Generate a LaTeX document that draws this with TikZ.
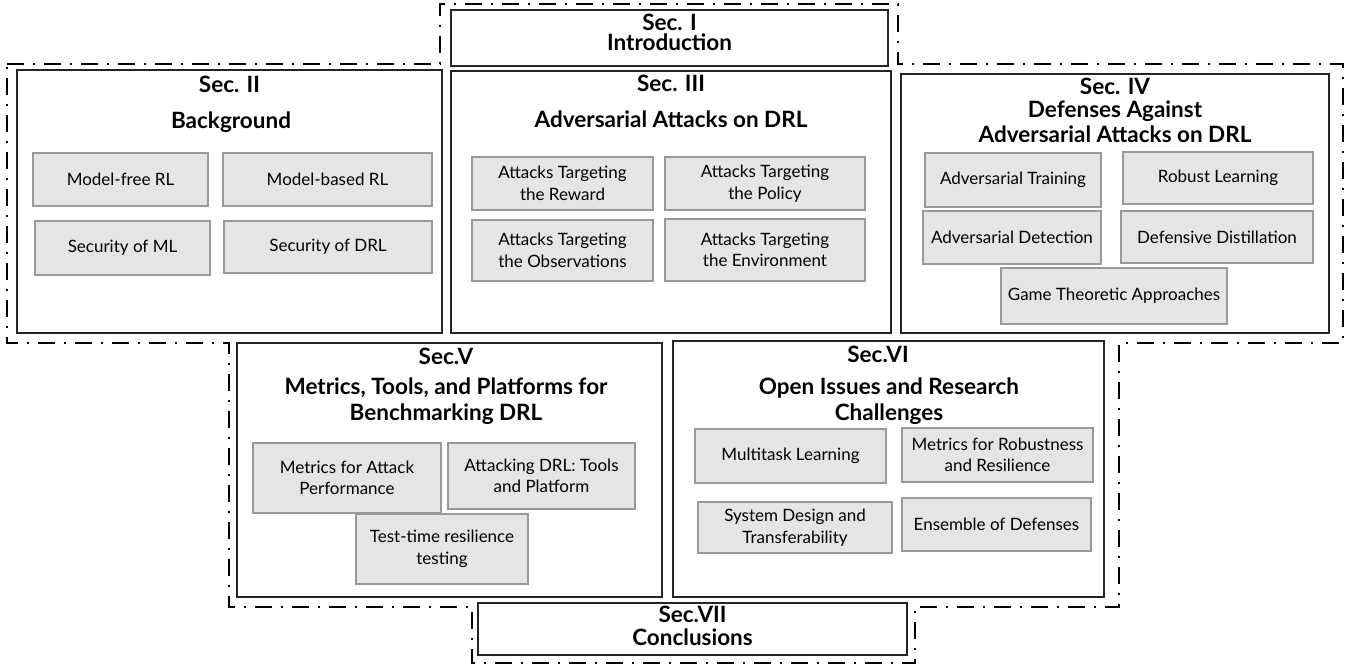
\documentclass[tikz,border=0pt]{standalone}
\usepackage{fontspec}
\setmainfont{Lato}
\begin{document}
\begin{tikzpicture}[x=1pt,y=-1pt,
  secbox/.style={draw=black!85, line width=1.4pt, inner sep=0pt},
  subbox/.style={draw=black!40, fill=black!10, line width=1.3pt, inner sep=0pt, align=center,
     font=\fontsize{17}{21.5}\selectfont},
  headtxt/.style={anchor=base, inner sep=0pt, font=\fontsize{22.5}{25}\selectfont\bfseries},
  outline/.style={line width=2pt, dash pattern=on 17pt off 9pt on 2pt off 9pt}]
\useasboundingbox (0,0) rectangle (1354,667);
% outer dash-dot outline
\draw[outline] (7,64) -- (440,64) -- (440,4) -- (898,4) -- (898,64) -- (1343,64) -- (1343,343)
  -- (1119,343) -- (1119,607) -- (915,607) -- (915,663) -- (472,663) -- (472,607)
  -- (229,607) -- (229,343) -- (7,343) -- cycle;
% section boxes
\node[secbox, minimum width=437pt, minimum height=56pt] (s1) at (669.5,38) {};
\node[secbox, minimum width=425pt, minimum height=263pt] (s2) at (229.5,201.5) {};
\node[secbox, minimum width=440pt, minimum height=262pt] (s3) at (671,202) {};
\node[secbox, minimum width=428pt, minimum height=259pt] (s4) at (1115,203.5) {};
\node[secbox, minimum width=425pt, minimum height=254pt] (s5) at (449.5,470) {};
\node[secbox, minimum width=431pt, minimum height=256pt] (s6) at (888.5,469) {};
\node[secbox, minimum width=429pt, minimum height=52pt] (s7) at (692.5,629) {};
% headings
\node[headtxt] (h1a) at (669.5,30) {Sec. I};
\node[headtxt] (h1b) at (669.5,50) {Introduction};
\node[headtxt] (h2a) at (229.5,92) {Sec. II};
\node[headtxt] (h2b) at (231,128) {Background};
\node[headtxt] (h3a) at (671,91) {Sec. III};
\node[headtxt] (h3b) at (671,127) {Adversarial Attacks on DRL};
\node[headtxt] (h4a) at (1115,94) {Sec. IV};
\node[headtxt] (h4b) at (1115,117) {Defenses Against};
\node[headtxt] (h4c) at (1115,142) {Adversarial Attacks on DRL};
\node[headtxt] (h5a) at (446,364) {Sec.V};
\node[headtxt] (h5b) at (446,394) {Metrics, Tools, and Platforms for};
\node[headtxt] (h5c) at (446,420) {Benchmarking DRL};
\node[headtxt] (h6a) at (878,362) {Sec.VI};
\node[headtxt] (h6b) at (889,394) {Open Issues and Research};
\node[headtxt] (h6c) at (889,420) {Challenges};
\node[headtxt] (h7a) at (692.5,622) {Sec.VII};
\node[headtxt] (h7b) at (692.5,645) {Conclusions};
% Sec II items
\node[subbox, minimum width=175pt, minimum height=53pt] (mfree) at (120.5,179.5) {Model-free RL};
\node[subbox, minimum width=209pt, minimum height=53pt] (mbased) at (327.5,179.5) {Model-based RL};
\node[subbox, minimum width=175pt, minimum height=54pt] (secml) at (122.5,248) {Security of ML};
\node[subbox, minimum width=208pt, minimum height=52pt] (secdrl) at (328,247) {Security of DRL};
% Sec III items
\node[subbox, minimum width=181pt, minimum height=53pt] (reward) at (562.5,183.5) {Attacks Targeting\\the Reward};
\node[subbox, minimum width=200pt, minimum height=53pt] (policy) at (765,183.5) {Attacks Targeting\\the Policy};
\node[subbox, minimum width=181pt, minimum height=61pt] (obs) at (562.5,250.5) {Attacks Targeting\\the Observations};
\node[subbox, minimum width=200pt, minimum height=62pt] (env) at (765,250) {Attacks Targeting\\the Environment};
% Sec IV items
\node[subbox, minimum width=176pt, minimum height=54pt] (advtrain) at (1013,180) {Adversarial Training};
\node[subbox, minimum width=190pt, minimum height=52pt] (robust) at (1218,178) {Robust Learning};
\node[subbox, minimum width=178pt, minimum height=53pt] (advdet) at (1012,237.5) {Adversarial Detection};
\node[subbox, minimum width=192pt, minimum height=52pt] (distill) at (1217,237) {Defensive Distillation};
\node[subbox, minimum width=226pt, minimum height=56pt] (game) at (1114,296) {Game Theoretic Approaches};
% Sec V items
\node[subbox, minimum width=188pt, minimum height=70pt] (metatk) at (347,478) {Metrics for Attack\\Performance};
\node[subbox, minimum width=187pt, minimum height=66pt] (atkdrl) at (541.5,476) {Attacking DRL: Tools\\and Platform};
\node[subbox, minimum width=172pt, minimum height=70pt] (testtime) at (442,549) {Test-time resilience\\testing};
% Sec VI items
\node[subbox, minimum width=191pt, minimum height=54pt] (multitask) at (790.5,456) {Multitask Learning};
\node[subbox, minimum width=191pt, minimum height=54pt] (metrob) at (997.5,455) {Metrics for Robustness\\and Resilience};
\node[subbox, minimum width=194pt, minimum height=51pt] (sysdes) at (795,527.5) {System Design and\\Transferability};
\node[subbox, minimum width=189pt, minimum height=53pt] (ensemble) at (996.5,524.5) {Ensemble of Defenses};
\end{tikzpicture}
\end{document}
